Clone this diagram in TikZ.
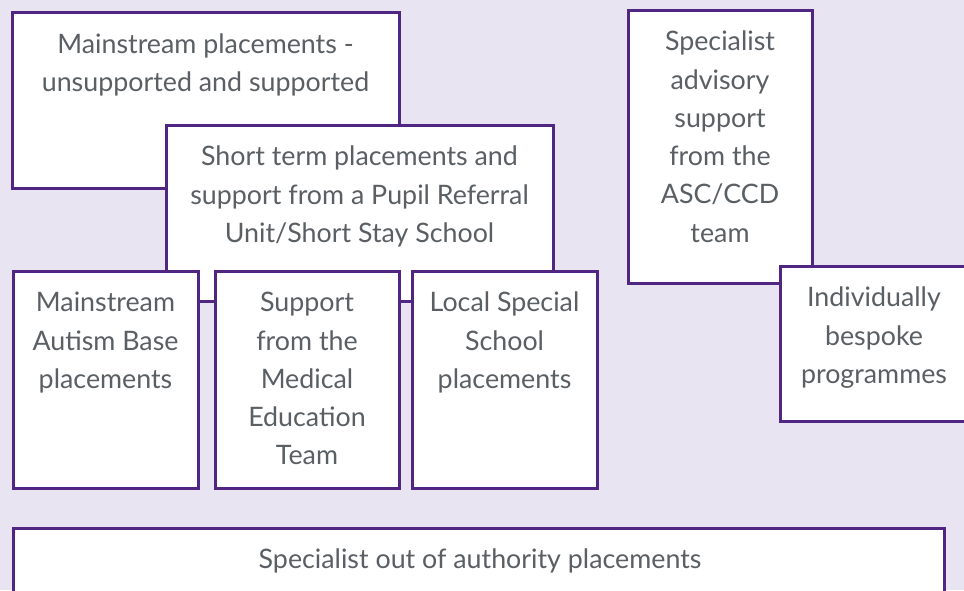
\documentclass[tikz,border=0pt]{standalone}
\usepackage{fontspec}
\setmainfont{Lato}
\definecolor{bgc}{RGB}{232,228,242}
\definecolor{edgec}{RGB}{80,38,130}
\definecolor{txtc}{RGB}{90,95,100}
\newcommand{\fst}{\rule{0pt}{23pt}}
\tikzset{
  panel/.style={draw=edgec, line width=3pt, fill=white},
  lbl/.style={anchor=north, inner sep=0pt, align=center, text=txtc,
    font=\fontsize{26.8}{38.3}\selectfont},
}
\begin{document}
\begin{tikzpicture}[x=1pt,y=-1pt]
\useasboundingbox (0,0) rectangle (964,590);
\fill[bgc] (0,0) rectangle (964,590);
\begin{scope}
\clip (0,0) rectangle (964,590);
% Mainstream placements
\path[panel] (12.5,12.5) rectangle (399,188.5) node[pos=0, inner sep=0pt] (a) {};
\node[lbl] (ta) at (205.5,30) {\fst Mainstream placements -\\unsupported and supported};
% Short term
\path[panel] (166,125) rectangle (553,301) node[pos=0, inner sep=0pt] (b) {};
\node[lbl] (tb) at (359.5,142.5) {\fst Short term placements and\\support from a Pupil Referral\\Unit/Short Stay School};
% lower three
\path[panel] (13,271) rectangle (198,488) node[pos=0, inner sep=0pt] (c1) {};
\node[lbl] (tc1) at (105.5,288.5) {\fst Mainstream\\Autism Base\\placements};
\path[panel] (215,271) rectangle (399,488) node[pos=0, inner sep=0pt] (c2) {};
\node[lbl] (tc2) at (307,288.5) {\fst Support\\from the\\Medical\\Education\\Team};
\path[panel] (412,271) rectangle (597,488) node[pos=0, inner sep=0pt] (c3) {};
\node[lbl] (tc3) at (504.5,288.5) {\fst Local Special\\School\\placements};
% Advisory
\path[panel] (628,10) rectangle (812,283) node[pos=0, inner sep=0pt] (d) {};
\node[lbl] (td) at (720,27.5) {\fst Specialist\\advisory\\support\\from the\\ASC/CCD\\team};
% Individually
\path[panel] (780,266) rectangle (968,421) node[pos=0, inner sep=0pt] (e) {};
\node[lbl] (te) at (874,283.5) {\fst Individually\\bespoke\\programmes};
% Bottom
\path[panel] (13,528) rectangle (944,620) node[pos=0, inner sep=0pt] (f) {};
\node[lbl] (tf) at (480,545.5) {\fst Specialist out of authority placements};
\end{scope}
\end{tikzpicture}
\end{document}
